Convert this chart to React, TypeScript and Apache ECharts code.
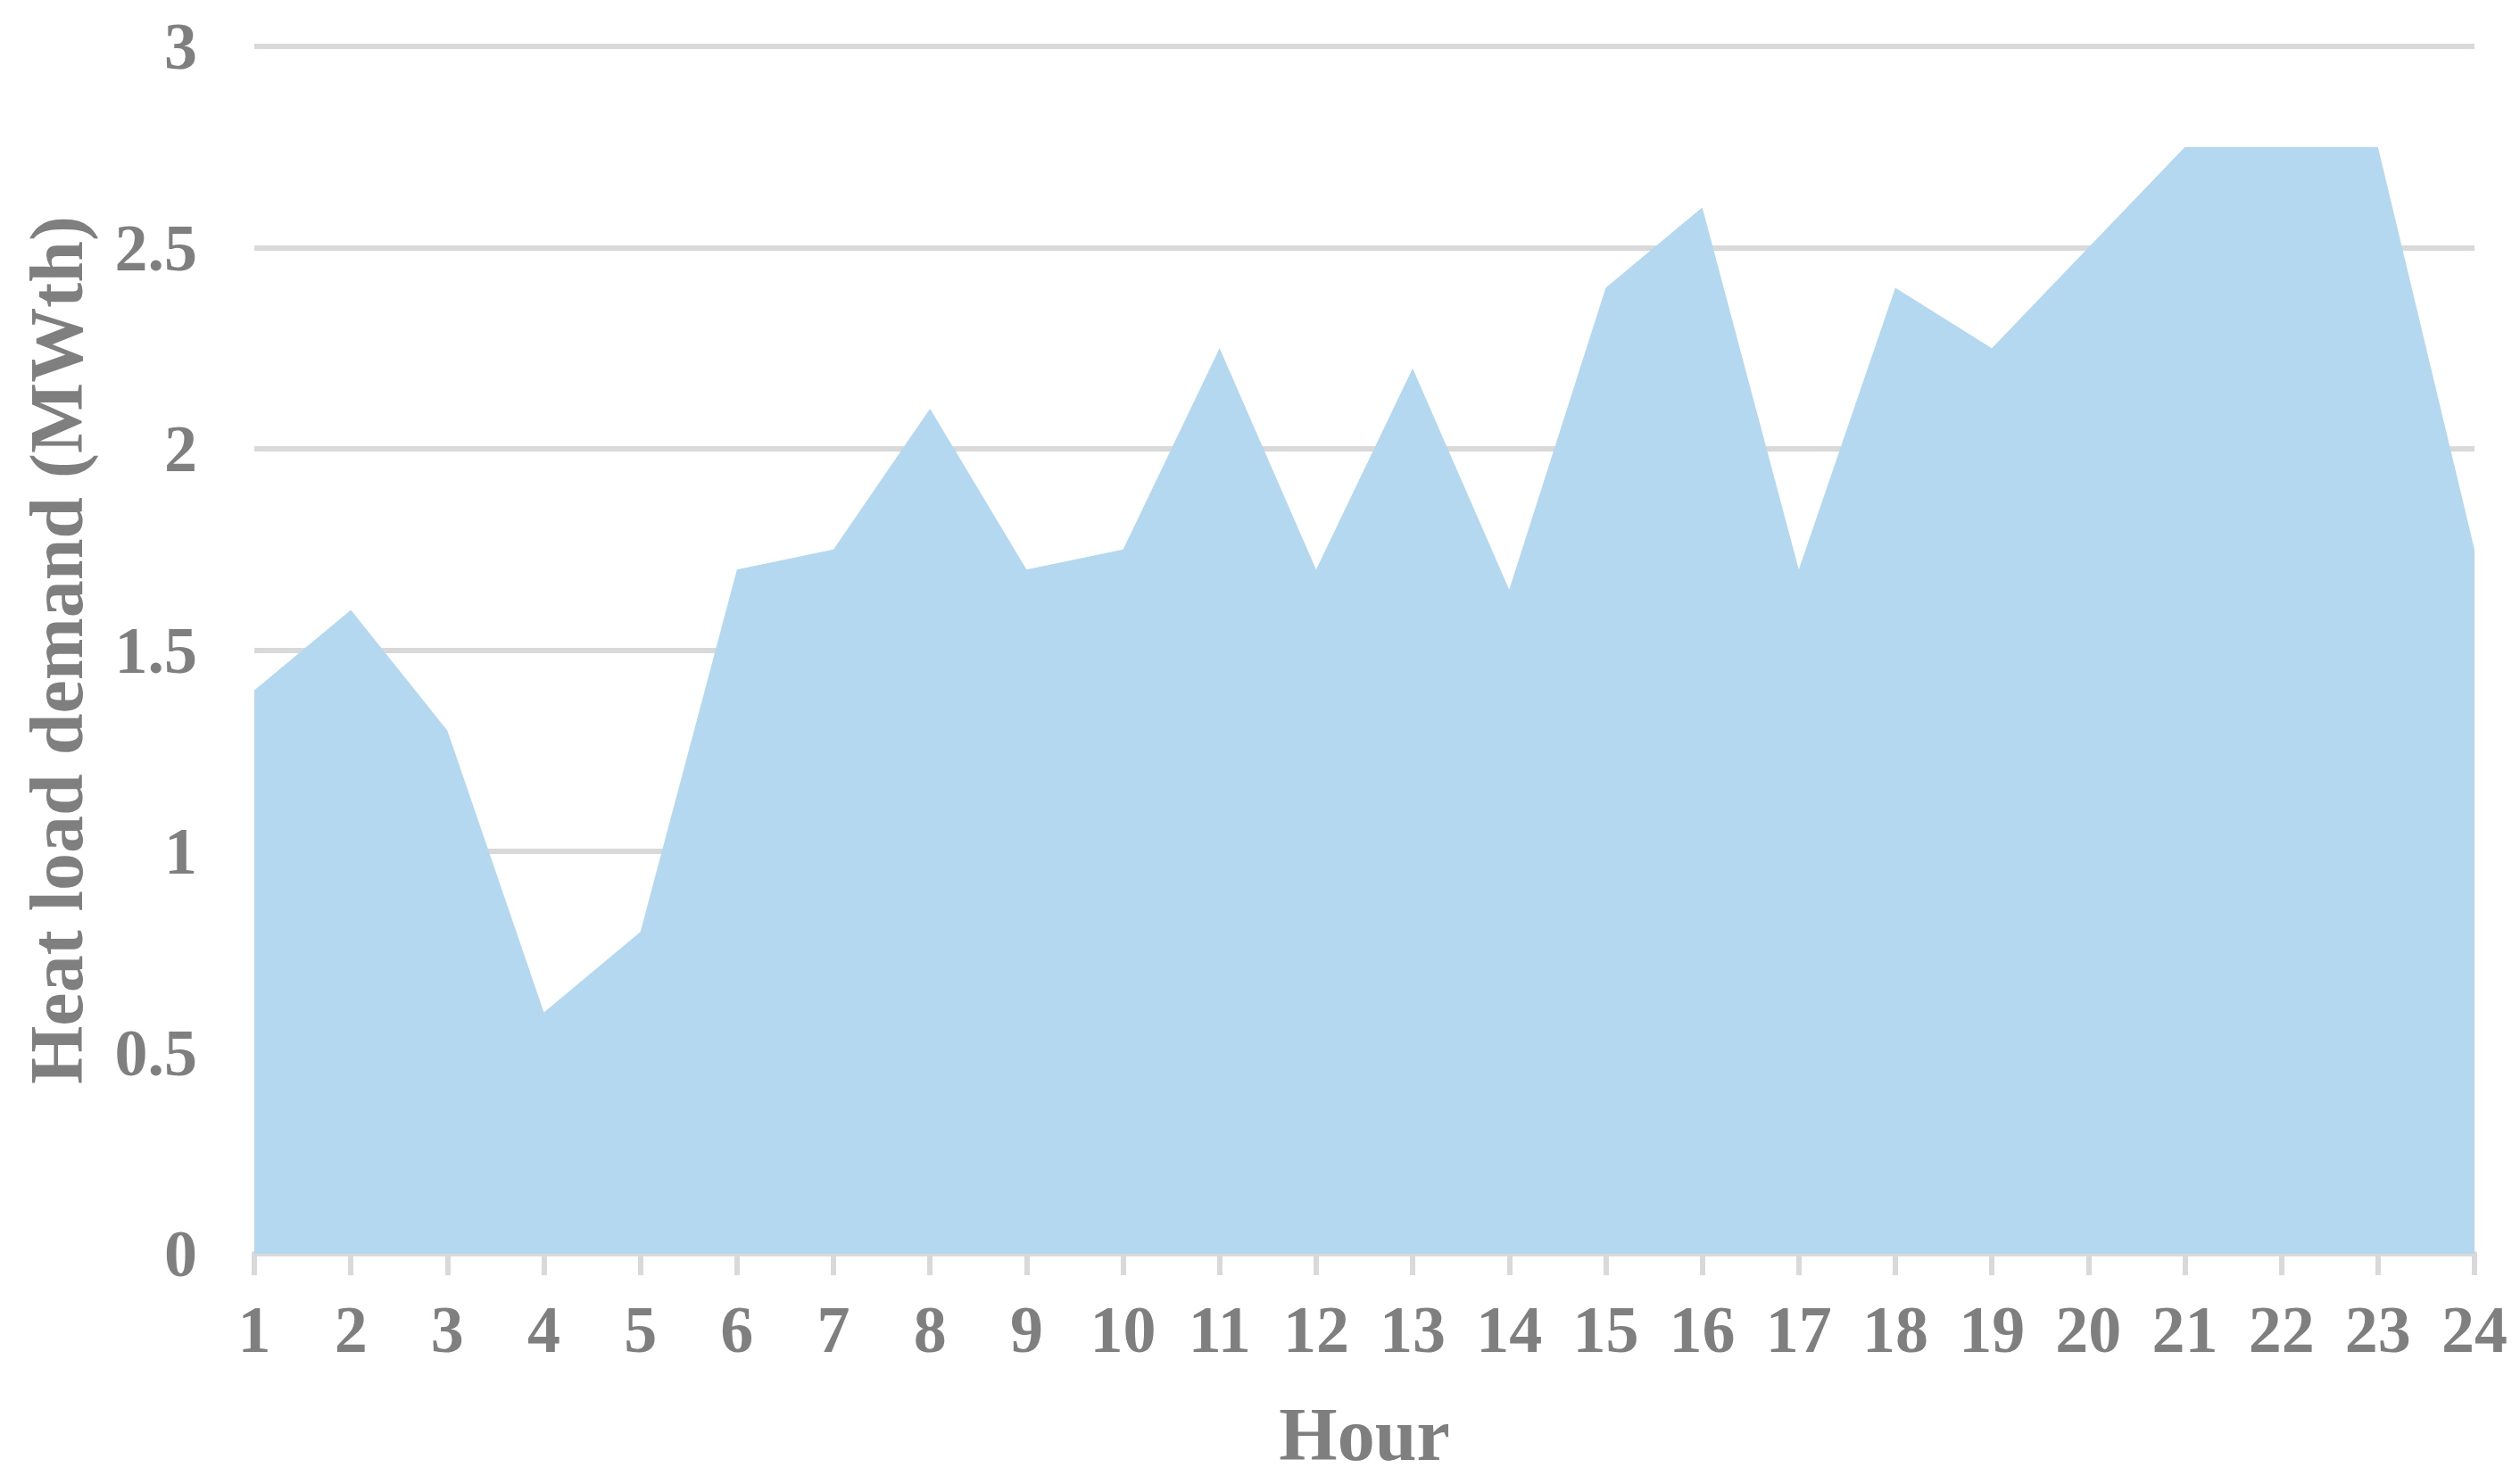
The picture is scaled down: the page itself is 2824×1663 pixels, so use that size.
import React, { useEffect, useRef } from "react";
import * as echarts from "echarts";

const hours = ["1","2","3","4","5","6","7","8","9","10","11","12","13","14","15","16","17","18","19","20","21","22","23","24"];
const heatLoad = [1.4, 1.6, 1.3, 0.6, 0.8, 1.7, 1.75, 2.1, 1.7, 1.75, 2.25, 1.7, 2.2, 1.65, 2.4, 2.6, 1.7, 2.4, 2.25, 2.5, 2.75, 2.75, 2.75, 1.75];

const FONT = "'Liberation Serif', 'Times New Roman', serif";
const TEXT = "#7f7f7f";
const LINE = "#d9d9d9";

export default function App() {
  const ref = useRef<HTMLDivElement>(null);
  useEffect(() => {
    if (!ref.current) return;
    const chart = echarts.init(ref.current, null, { renderer: "svg" });
    chart.setOption({
      animation: false,
      backgroundColor: "#ffffff",
      grid: { left: 285, right: 51, top: 52, bottom: 258, containLabel: false },
      xAxis: {
        type: "category",
        data: hours,
        boundaryGap: false,
        name: "Hour",
        nameLocation: "middle",
        nameGap: 160,
        nameTextStyle: { fontFamily: FONT, fontWeight: "bold", fontSize: 84, color: TEXT },
        axisLine: { show: true, lineStyle: { color: LINE, width: 6 } },
        axisTick: { show: true, length: 24, lineStyle: { color: LINE, width: 6 } },
        axisLabel: { fontFamily: FONT, fontWeight: "bold", fontSize: 74, color: TEXT, margin: 48, interval: 0 },
        splitLine: { show: false },
      },
      yAxis: {
        type: "value",
        min: 0,
        max: 3,
        interval: 0.5,
        name: "Heat load demand (MWth)",
        nameLocation: "middle",
        nameGap: 180,
        nameTextStyle: { fontFamily: FONT, fontWeight: "bold", fontSize: 84, color: TEXT },
        axisLine: { show: false },
        axisTick: { show: false },
        axisLabel: { fontFamily: FONT, fontWeight: "bold", fontSize: 74, color: TEXT, margin: 64 },
        splitLine: { show: true, lineStyle: { color: LINE, width: 6 } },
      },
      series: [
        {
          type: "line",
          data: heatLoad,
          symbol: "none",
          lineStyle: { width: 0 },
          areaStyle: { color: "#b4d8ef", opacity: 1 },
          z: 1,
        },
      ],
    });
    return () => chart.dispose();
  }, []);
  return (
    <div
      ref={ref}
      style={{ position: "fixed", left: 0, top: 0, width: 2824, height: 1663 }}
    />
  );
}
